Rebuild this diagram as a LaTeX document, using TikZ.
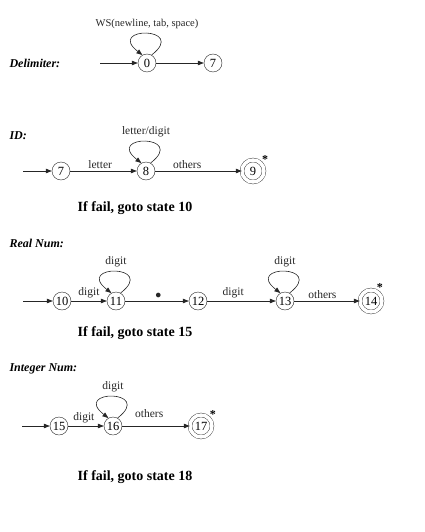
\documentclass[tikz,border=0pt]{standalone}
\usepackage{fontspec}
\setmainfont{Liberation Serif}
\usetikzlibrary{arrows.meta}

\begin{document}
\begin{tikzpicture}[
    x=1pt, y=-1pt,
    % State circles
    statebox/.style={
        circle,
        draw=black!85,
        fill=white,
        minimum size=18pt,
        inner sep=0pt,
        font=\fontsize{12.5}{13}\selectfont
    },
    % Accepting state
    finalbox/.style={
        statebox,
        minimum size=22pt,
        double,
        double distance=3.5pt,
        label distance=1pt
    },
    starmark/.style={
        font=\fontsize{12}{12}\selectfont\bfseries,
        inner sep=0pt
    },
    % Arrow style
    arrow/.style={
        -{Triangle[length=6pt,width=4.5pt]},
        line width=0.6pt,
        black!85
    },
    loopback/.style={
        arrow,
        out=38,
        in=142,
        looseness=13
    },
    edgelabel/.style={
        above=1.5pt,
        inner sep=1pt,
        font=\fontsize{11.5}{12}\selectfont
    },
    looplabel/.style={
        above=3pt,
        inner sep=1pt,
        font=\fontsize{11.5}{12}\selectfont
    },
    heading/.style={
        anchor=west,
        font=\fontsize{12}{14}\selectfont\bfseries\itshape
    },
    note/.style={
        font=\fontsize{14}{16}\selectfont\bfseries
    }
]
\useasboundingbox (0,0) rectangle (424,532);

% === Delimiter ===
\node[heading] (hdelim) at (6,63) {Delimiter:};
\coordinate (d0) at (100,63);
\node[statebox] (q0) at (147,63) {0};
\node[statebox] (q7) at (213,63) {7};

\draw[arrow] (d0) -- (q0);
\draw[arrow] (q0) -- (q7);
\draw[loopback] (q0.60) to node[looplabel, font=\fontsize{10.5}{12}\selectfont] {WS(newline, tab, space)} (q0.120);

% === ID ===
\node[heading] (hid) at (6,136) {ID:};
\coordinate (d7) at (23,171);
\node[statebox] (s7) at (61,171) {7};
\node[statebox] (s8) at (146,171) {8};
\node[finalbox, label={[starmark]38:*}] (s9) at (253,171) {9};

\draw[arrow] (d7) -- (s7);
\draw[arrow] (s7) -- node[edgelabel, pos=.45] {letter} (s8);
\draw[arrow] (s8) -- node[edgelabel, pos=.37] {others} (s9);
\draw[loopback] (s8.60) to node[looplabel] {letter/digit} (s8.120);

\node[note] (fail10) at (135,208) {If fail, goto state 10};

% === Real Num ===
\node[heading] (hreal) at (6,243) {Real Num:};
\coordinate (d10) at (23,301);
\node[statebox] (r10) at (62,301) {10};
\node[statebox] (r11) at (116,301) {11};
\node[statebox] (r12) at (198,301) {12};
\node[statebox] (r13) at (285,301) {13};
\node[finalbox, label={[starmark]60:*}] (r14) at (371,301) {14};

\draw[arrow] (d10) -- (r10);
\draw[arrow] (r10) -- node[edgelabel, pos=.5] {digit} (r11);
\draw[arrow] (r11) -- node[edgelabel, pos=.52] {$\bullet$} (r12);
\draw[arrow] (r12) -- node[edgelabel, pos=.38] {digit} (r13);
\draw[arrow] (r13) -- node[edgelabel, pos=.43] {others} (r14);
\draw[loopback] (r11.60) to node[looplabel] {digit} (r11.120);
\draw[loopback] (r13.60) to node[looplabel] {digit} (r13.120);

\node[note] (fail15) at (135,333) {If fail, goto state 15};

% === Integer Num ===
\node[heading] (hint) at (6,369) {Integer Num:};
\coordinate (d15) at (22,426);
\node[statebox] (i15) at (59,426) {15};
\node[statebox] (i16) at (113,426) {16};
\node[finalbox, label={[starmark]40:*}] (i17) at (201,426) {17};

\draw[arrow] (d15) -- (i15);
\draw[arrow] (i15) -- node[edgelabel, pos=.44] {digit} (i16);
\draw[arrow] (i16) -- node[edgelabel, pos=.4, above=6pt] {others} (i17);
\draw[loopback] (i16.60) to node[looplabel] {digit} (i16.120);

\node[note] (fail18) at (135,477) {If fail, goto state 18};

\end{tikzpicture}
\end{document}
